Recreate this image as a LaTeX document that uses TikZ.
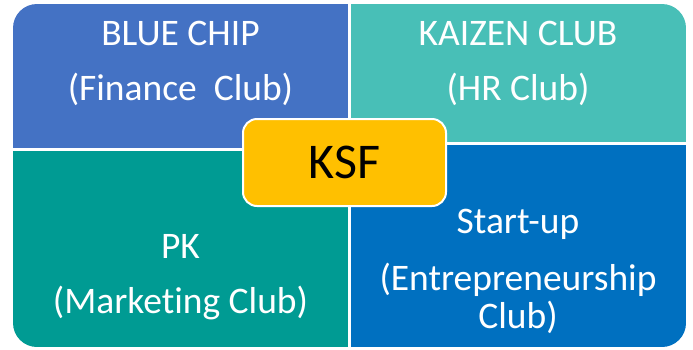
\documentclass[tikz,border=0pt]{standalone}
\usepackage{fontspec}
\setmainfont{Carlito}[Ligatures={NoCommon}]
\definecolor{chipblue}{HTML}{4472C4}
\definecolor{kaizenteal}{HTML}{48BFB7}
\definecolor{pkteal}{HTML}{009B93}
\definecolor{startblue}{HTML}{0070C0}
\definecolor{ksfgold}{HTML}{FFC000}
\begin{document}
\begin{tikzpicture}[x=1pt,y=-1pt,
    clubtext/.style={text=white,font=\fontsize{37.5}{40}\selectfont,anchor=base,inner sep=0pt}]
  \useasboundingbox (0,0) rectangle (693,349);

  % the four club quadrants
  \begin{scope}
    \clip[rounded corners=24pt] (13,4) rectangle (686,347);
    \fill[chipblue]   (13,4)    rectangle (348,148);
    \fill[kaizenteal] (351,4)   rectangle (686,142);
    \fill[pkteal]     (13,151)  rectangle (348,347);
    \fill[startblue]  (351,145) rectangle (686,347);
  \end{scope}

  \begin{scope}[every node/.style={clubtext}]
    \node (chip)     at (180.5,45)  {BLUE CHIP};
    \node (chipsub)  at (180.5,100) {(Finance~ Club)};
    \node (kaizen)   at (518,45)    {KAIZEN CLUB};
    \node (kaizensub) at (518,100)  {(HR Club)};
    \node (pk)       at (180.5,258) {PK};
    \node (pksub)    at (180.5,313) {(Marketing Club)};
    \node (start)    at (518,233)   {Start-up};
    \node (startsub) at (518,290)   {(Entrepreneurship};
    \node (startend) at (518,328)   {Club)};
  \end{scope}

  % centre box
  \node[draw=white,line width=2pt,fill=ksfgold,rounded corners=14pt,
        minimum width=203pt,minimum height=87pt,
        font=\fontsize{50}{56}\selectfont] (ksf) at (344.5,162.5) {KSF};

\end{tikzpicture}
\end{document}
